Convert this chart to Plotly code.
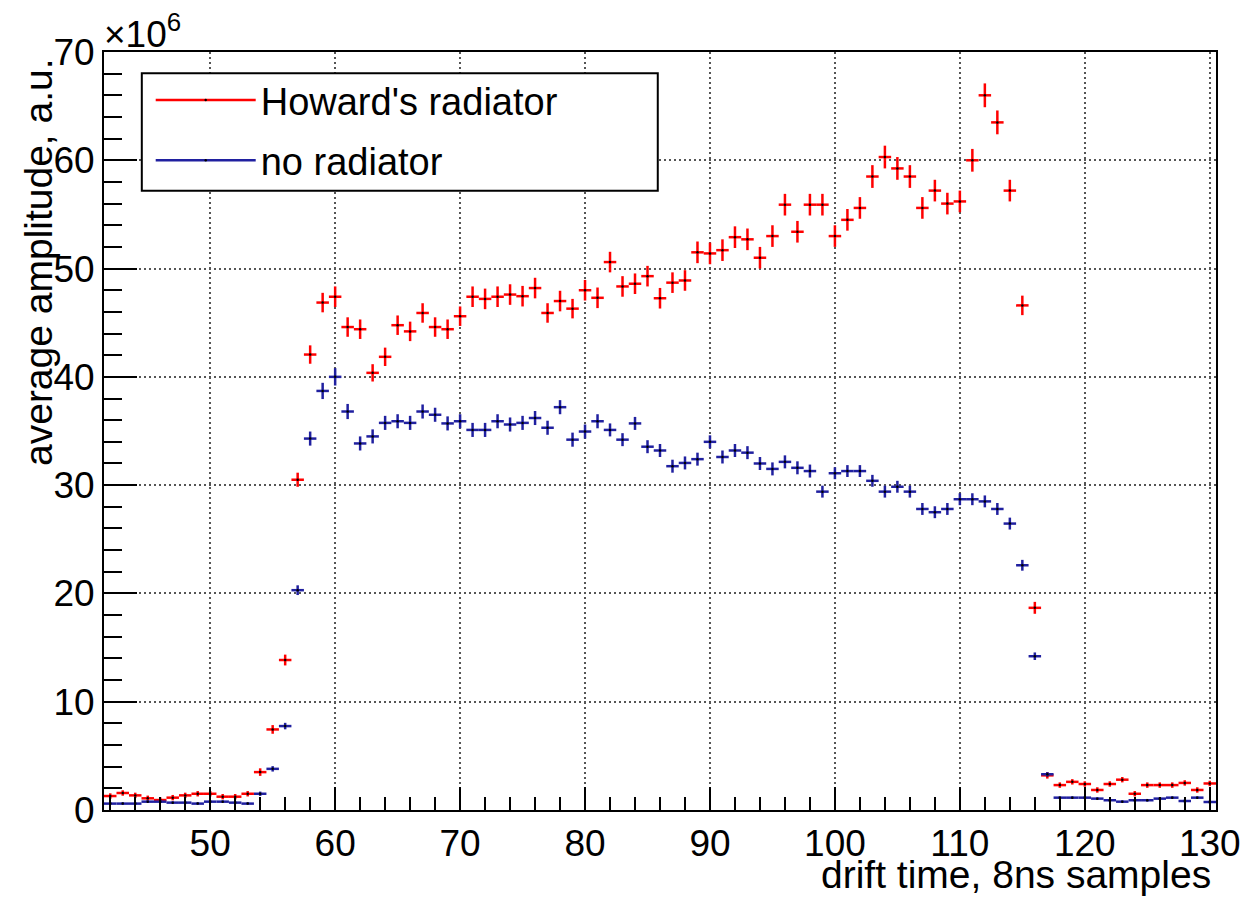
import plotly.graph_objects as go

# ---- data (amplitude in units of 1e6) ----
drift_time = list(range(42, 131))

howard_radiator = [
    1.29, 1.57, 1.35, 1.08, 0.92, 1.14, 1.35, 1.50, 1.50, 1.23, 1.23, 1.50,
    3.50, 7.44, 13.85, 30.5, 42.06, 46.86, 47.4, 44.6, 44.4, 40.37, 41.85,
    44.77, 44.2, 45.9, 44.6, 44.4, 45.6, 47.4, 47.2, 47.4, 47.6, 47.45, 48.2,
    45.9, 47.0, 46.3, 48.0, 47.3, 50.6, 48.35, 48.6, 49.3, 47.26, 48.7, 48.9,
    51.5, 51.4, 51.7, 52.9, 52.7, 51.0, 53.0, 55.9, 53.4, 55.9, 55.9, 53.0,
    54.5, 55.6, 58.5, 60.3, 59.25, 58.5, 55.6, 57.2, 56.0, 56.2, 60.0, 66.0,
    63.5, 57.2, 46.6, 18.67, 3.2, 2.3, 2.6, 2.4, 1.85, 2.4, 2.8, 1.5, 2.3,
    2.3, 2.3, 2.5, 1.85, 2.45,
]
howard_err = [
    0.25, 0.25, 0.25, 0.25, 0.25, 0.25, 0.25, 0.25, 0.25, 0.25, 0.25, 0.25,
    0.35, 0.4, 0.5, 0.65, 0.85, 0.9, 0.95, 0.9, 0.9, 0.8, 0.85,
    0.9, 0.9, 0.9, 0.9, 0.9, 0.9, 0.95, 0.95, 0.95, 0.95, 0.95, 0.95,
    0.9, 0.95, 0.9, 0.95, 0.95, 0.95, 0.95, 0.95, 0.95, 0.95, 0.95, 0.95,
    1.0, 1.0, 1.0, 1.0, 1.0, 1.0, 1.0, 1.0, 1.0, 1.0, 1.0, 1.0,
    1.0, 1.0, 1.05, 1.05, 1.05, 1.05, 1.0, 1.0, 1.0, 1.0, 1.05, 1.1,
    1.1, 1.0, 0.9, 0.55, 0.3, 0.25, 0.25, 0.25, 0.25, 0.25, 0.25, 0.25, 0.25,
    0.25, 0.25, 0.25, 0.25, 0.25,
]

no_radiator = [
    0.59, 0.59, 0.59, 0.77, 0.77, 0.68, 0.68, 0.59, 0.77, 0.77, 0.68, 0.59,
    1.5, 3.8, 7.75, 20.3, 34.3, 38.7, 40.0, 36.8, 33.85, 34.5, 35.75,
    35.9, 35.75, 36.8, 36.5, 35.7, 35.9, 35.1, 35.1, 35.9, 35.6, 35.75, 36.2,
    35.3, 37.2, 34.2, 34.95, 35.9, 35.1, 34.2, 35.7, 33.55, 33.2, 31.75, 32.05,
    32.4, 34.0, 32.6, 33.2, 33.0, 32.0, 31.5, 32.15, 31.6, 31.3, 29.4, 31.1,
    31.3, 31.3, 30.4, 29.4, 29.85, 29.4, 27.8, 27.5, 27.8, 28.7, 28.7, 28.5,
    27.8, 26.45, 22.6, 14.2, 3.3, 1.14, 1.14, 1.14, 1.05, 0.9, 0.77, 0.9, 0.9,
    1.05, 1.14, 0.83, 1.14, 0.74,
]
no_radiator_err = [
    0.12, 0.12, 0.12, 0.12, 0.12, 0.12, 0.12, 0.12, 0.12, 0.12, 0.12, 0.12,
    0.2, 0.25, 0.3, 0.45, 0.65, 0.75, 0.8, 0.7, 0.65, 0.65, 0.65,
    0.65, 0.65, 0.65, 0.65, 0.65, 0.65, 0.65, 0.65, 0.65, 0.65, 0.65, 0.65,
    0.65, 0.65, 0.65, 0.65, 0.65, 0.6, 0.6, 0.6, 0.6, 0.6, 0.6, 0.6,
    0.6, 0.6, 0.6, 0.6, 0.6, 0.6, 0.6, 0.6, 0.6, 0.6, 0.55, 0.55,
    0.55, 0.55, 0.55, 0.55, 0.55, 0.55, 0.55, 0.55, 0.55, 0.55, 0.55, 0.55,
    0.55, 0.55, 0.5, 0.35, 0.2, 0.12, 0.12, 0.12, 0.12, 0.12, 0.12, 0.12, 0.12,
    0.12, 0.12, 0.12, 0.12, 0.12,
]

bin_half_width = 0.5
x_ticks = [50, 60, 70, 80, 90, 100, 110, 120, 130]
y_ticks = [0, 10, 20, 30, 40, 50, 60, 70]

RED = "#ff0000"
BLUE = "#2020a0"
FONT = "Liberation Sans, Arial, Helvetica, sans-serif"

series = [
    ("Howard's radiator", howard_radiator, howard_err, RED),
    ("no radiator", no_radiator, no_radiator_err, BLUE),
]

fig = go.Figure()

for i, (name, vals, errs, col) in enumerate(series):
    fig.add_trace(go.Scatter(
        x=drift_time, y=vals, mode="markers", name=name, showlegend=False,
        marker=dict(size=2.5, color="#000000"),
        error_x=dict(type="constant", value=bin_half_width, thickness=2.5,
                     width=0, color=col),
        error_y=dict(type="data", array=errs, thickness=2.5, width=0,
                     color=col),
    ))

for i, (name, vals, errs, col) in enumerate(series):
    fig.add_trace(go.Scatter(
        x=[None], y=[None], mode="lines+markers", name=name,
        legendgroup=f"g{i}",
        line=dict(color=col, width=2.5),
        marker=dict(size=2.5, color="#000000"),
    ))

axis_common = dict(
    showline=True, linecolor="black", linewidth=2, mirror=True,
    ticks="inside", tickcolor="black", tickwidth=2,
    showgrid=True, gridcolor="#555555", gridwidth=1.5, griddash="2px,3px",
    zeroline=False,
    tickfont=dict(family=FONT, size=37, color="black"),
)

fig.update_xaxes(
    range=[41.5, 130.5], tickvals=x_ticks, ticklen=23,
    minor=dict(ticks="inside", ticklen=13, tickwidth=2, tickcolor="black",
               dtick=2, tick0=0, showgrid=False),
    **axis_common,
)
fig.update_yaxes(
    range=[0, 70], tickvals=y_ticks, ticklen=33,
    minor=dict(ticks="inside", ticklen=18, tickwidth=2, tickcolor="black",
               dtick=2, tick0=0, showgrid=False),
    **axis_common,
)

# legend frame (white box with black border, drawn over the grid)
legend_box = dict(type="rect", xref="paper", yref="paper",
                  x0=0.034, x1=0.498, y0=0.817, y1=0.972,
                  fillcolor="white", line=dict(color="black", width=2),
                  layer="above")

fig.update_layout(
    width=1253, height=898,
    margin=dict(l=104, r=31, t=52, b=88),
    paper_bgcolor="white", plot_bgcolor="white",
    font=dict(family=FONT, color="black"),
    showlegend=True,
    shapes=[legend_box],
    legend=dict(
        x=0.042, y=0.978, xanchor="left", yanchor="top",
        bgcolor="rgba(0,0,0,0)", borderwidth=0,
        font=dict(family=FONT, size=38, color="black"),
        itemwidth=100, traceorder="grouped", tracegroupgap=8,
    ),
    annotations=[
        dict(text="×10<sup>6</sup>", xref="paper", yref="paper", x=0, y=1,
             xanchor="left", yanchor="bottom", yshift=-5, xshift=-2,
             showarrow=False,
             font=dict(family=FONT, size=37, color="black")),
        dict(text="drift time, 8ns samples", xref="paper", yref="paper",
             x=1, y=0, xanchor="right", yanchor="top", yshift=-41, xshift=-3,
             showarrow=False, font=dict(family=FONT, size=39, color="black")),
        dict(text="average amplitude, a.u.", xref="paper", yref="paper",
             x=0, y=1, xanchor="center", yanchor="top", xshift=-66, yshift=-4,
             textangle=-90, showarrow=False,
             font=dict(family=FONT, size=39, color="black")),
    ],
)

fig.write_html("out.html", config={"displayModeBar": False},
               post_script="document.body.style.margin='0';")
